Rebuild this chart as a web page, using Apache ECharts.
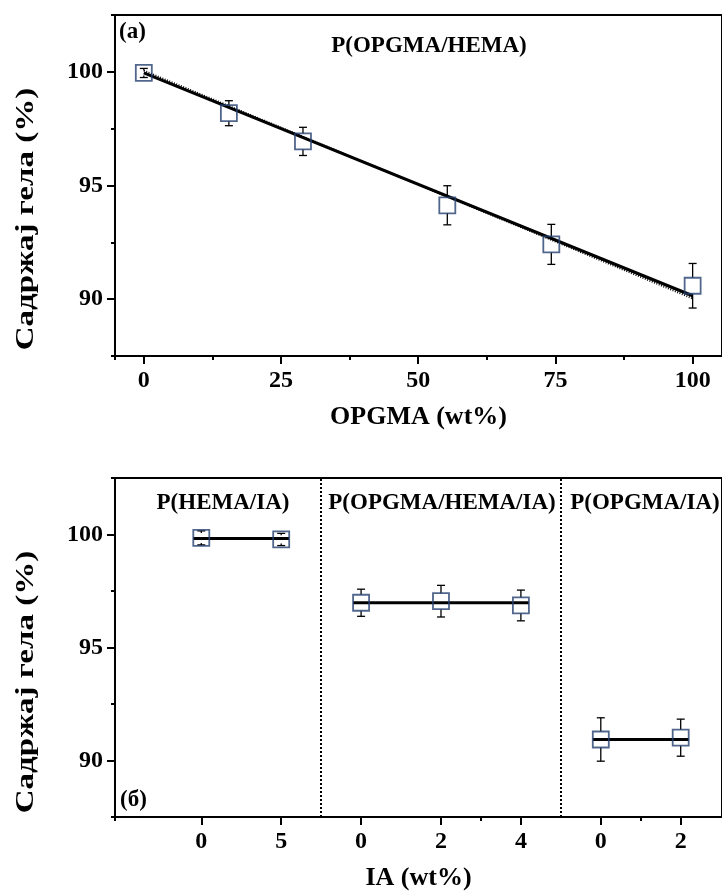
<!DOCTYPE html>
<html>
<head>
<meta charset="utf-8">
<script src="https://cdn.jsdelivr.net/npm/echarts@6/dist/echarts.min.js"></script>
<style>
  html, body { margin: 0; padding: 0; background: #fff; }
  #chart { width: 722px; height: 892px; }
</style>
</head>
<body>
<div id="chart"></div>
<script>
// Panel (a): gel content vs OPGMA content in P(OPGMA/HEMA)
const opgmaWt = [0, 15.5, 29, 55.3, 74.25, 100];
const gelA = [99.95, 98.18, 96.94, 94.13, 92.41, 90.59];
const errA = [0.2, 0.55, 0.62, 0.86, 0.88, 0.98];
const fitX = [0, 100];
const fitSolid = [99.95, 90.15];
const fitDotted = [100.05, 90.03];
const ticksA = [0, 25, 50, 75, 100];
const minorA = [-5.25, 12.5, 37.5, 62.5, 87.5];

// Panel (б): gel content vs IA content, three copolymer groups
const groupNames = ['P(HEMA/IA)', 'P(OPGMA/HEMA/IA)', 'P(OPGMA/IA)'];
const groupOf = [0, 0, 1, 1, 1, 2, 2];
const slotB = [0, 1, 2, 3, 4, 5, 6];
const iaWt = ['0', '5', '0', '2', '4', '0', '2'];
const gelB = [99.85, 99.78, 96.98, 97.05, 96.86, 90.93, 91.01];
const errB = [0.31, 0.27, 0.6, 0.7, 0.68, 0.96, 0.82];
const groupMean = [99.82, 96.98, 90.93];
const dividers = [1.5, 4.5];
const minorB = [-1.08, 3.5, 5.5];

const yTicks = [90, 95, 100];
const yMinor = [87.5, 92.5, 97.5, 102.5];
const yTitle = 'Садржај гела (%)';

const FONT = '"Liberation Serif", "Times New Roman", serif';
const SQ = 16;
const NAVY = '#26406f';

const chart = echarts.init(document.getElementById('chart'), null, { renderer: 'canvas' });

function majorX(gridIndex, min, max, values, fmt, name) {
  return {
    type: 'value', gridIndex, min, max, position: 'bottom',
    axisLine: { show: true, onZero: false, lineStyle: { color: '#000', width: 2 } },
    axisTick: { show: true, inside: false, length: 8, customValues: values, lineStyle: { color: '#000', width: 2 } },
    axisLabel: { show: true, customValues: values, formatter: fmt, margin: 13,
      color: '#000', fontFamily: FONT, fontWeight: 'bold', fontSize: 24 },
    splitLine: { show: false },
    name, nameLocation: 'middle', nameGap: 48,
    nameTextStyle: { color: '#000', fontFamily: FONT, fontWeight: 'bold', fontSize: 26 }
  };
}
function minorX(gridIndex, min, max, values) {
  return {
    type: 'value', gridIndex, min, max, position: 'bottom',
    axisLine: { show: false, onZero: false },
    axisTick: { show: true, length: 4, customValues: values, lineStyle: { color: '#000', width: 2 } },
    axisLabel: { show: false },
    splitLine: { show: false }
  };
}
function majorY(gridIndex) {
  return {
    type: 'value', gridIndex, min: 87.5, max: 102.5, position: 'left',
    axisLine: { show: true, onZero: false, lineStyle: { color: '#000', width: 2 } },
    axisTick: { show: true, length: 8, customValues: yTicks, lineStyle: { color: '#000', width: 2 } },
    axisLabel: { show: true, customValues: yTicks, margin: 12,
      color: '#000', fontFamily: FONT, fontWeight: 'bold', fontSize: 24 },
    splitLine: { show: false }
  };
}
function minorY(gridIndex) {
  return {
    type: 'value', gridIndex, min: 87.5, max: 102.5, position: 'left',
    axisLine: { show: false, onZero: false },
    axisTick: { show: true, length: 4, customValues: yMinor, lineStyle: { color: '#000', width: 2 } },
    axisLabel: { show: false },
    splitLine: { show: false }
  };
}

// Vertical error bars that start at the edge of the square marker
function errorBarRender(params, api) {
  const x = api.value(0), y = api.value(1), e = api.value(2);
  const c = api.coord([x, y]);
  const t = api.coord([x, y + e]);
  const b = api.coord([x, y - e]);
  const half = SQ / 2, cap = 4;
  const style = { stroke: '#000', lineWidth: 1.3, fill: null };
  const kids = [];
  const topEnd = t[1] < c[1] - half ? c[1] - half : t[1] + 2;
  const botEnd = b[1] > c[1] + half ? c[1] + half : b[1] - 2;
  kids.push({ type: 'line', shape: { x1: t[0], y1: t[1], x2: t[0], y2: topEnd }, style });
  kids.push({ type: 'line', shape: { x1: b[0], y1: b[1], x2: b[0], y2: botEnd }, style });
  kids.push({ type: 'line', shape: { x1: t[0] - cap, y1: t[1], x2: t[0] + cap, y2: t[1] }, style });
  kids.push({ type: 'line', shape: { x1: b[0] - cap, y1: b[1], x2: b[0] + cap, y2: b[1] }, style });
  return { type: 'group', children: kids };
}

// Horizontal mean line spanning a group's markers, edge to edge
function meanLineRender(params, api) {
  const x0 = api.value(0), x1 = api.value(1), m = api.value(2);
  const p0 = api.coord([x0, m]);
  const p1 = api.coord([x1, m]);
  return {
    type: 'line',
    shape: { x1: p0[0] - SQ / 2, y1: p0[1], x2: p1[0] + SQ / 2, y2: p1[1] },
    style: { stroke: '#000', lineWidth: 3 }
  };
}

const seriesA = opgmaWt.map((x, i) => [x, gelA[i]]);
const errDataA = opgmaWt.map((x, i) => [x, gelA[i], errA[i]]);
const seriesB = slotB.map((x, i) => [x, gelB[i]]);
const errDataB = slotB.map((x, i) => [x, gelB[i], errB[i]]);
const meanData = groupMean.map((m, g) => {
  const slots = slotB.filter((s, i) => groupOf[i] === g);
  return [Math.min(...slots), Math.max(...slots), m];
});

const squareStyle = { color: 'rgba(0,0,0,0)', borderColor: NAVY, borderWidth: 1.8 };
const labelFont = 'bold 23px ' + FONT;

function yTitleText(cy) {
  return { type: 'text', x: 27, y: cy, rotation: Math.PI / 2, scaleX: 1.32,
    style: { text: yTitle, font: 'bold 25px ' + FONT, fill: '#000', align: 'center', verticalAlign: 'middle' } };
}
function panelText(x, y, text, align) {
  return { type: 'text', x, y, style: { text, font: labelFont, fill: '#000', align: align || 'center', verticalAlign: 'middle' } };
}

const option = {
  backgroundColor: '#fff',
  animation: false,
  grid: [
    { left: 115, top: 15, width: 610, height: 341, show: true, borderColor: '#000', borderWidth: 2, backgroundColor: 'transparent' },
    { left: 115, top: 478, width: 610, height: 343, show: true, borderColor: '#000', borderWidth: 2, backgroundColor: 'transparent' }
  ],
  xAxis: [
    majorX(0, -5.25, 105.35, ticksA, v => String(v), 'OPGMA (wt%)'),
    minorX(0, -5.25, 105.35, minorA),
    majorX(1, -1.08, 6.517, slotB, v => iaWt[slotB.indexOf(Math.round(v))] ?? '', 'IA (wt%)'),
    minorX(1, -1.08, 6.517, minorB)
  ],
  yAxis: [majorY(0), minorY(0), majorY(1), minorY(1)],
  series: [
    { type: 'line', xAxisIndex: 0, yAxisIndex: 0, data: fitX.map((x, i) => [x, fitDotted[i]]),
      showSymbol: false, symbol: 'none', lineStyle: { color: '#000', width: 2, type: [1, 1.5] }, z: 3 },
    { type: 'line', xAxisIndex: 0, yAxisIndex: 0, data: fitX.map((x, i) => [x, fitSolid[i]]),
      showSymbol: false, symbol: 'none', lineStyle: { color: '#000', width: 3 }, z: 4 },
    { type: 'custom', xAxisIndex: 0, yAxisIndex: 0, data: errDataA, renderItem: errorBarRender,
      encode: { x: 0, y: 1 }, clip: false, z: 5 },
    { type: 'scatter', xAxisIndex: 0, yAxisIndex: 0, data: seriesA, symbol: 'rect', symbolSize: SQ,
      itemStyle: squareStyle, z: 6 },

    { type: 'custom', xAxisIndex: 2, yAxisIndex: 2, data: meanData, renderItem: meanLineRender,
      encode: { x: [0, 1], y: 2 }, clip: false, z: 4,
      markLine: {
        silent: true, symbol: 'none', label: { show: false },
        lineStyle: { color: '#000', width: 2, type: [2, 2] },
        data: dividers.map(d => ({ xAxis: d }))
      }
    },
    { type: 'custom', xAxisIndex: 2, yAxisIndex: 2, data: errDataB, renderItem: errorBarRender,
      encode: { x: 0, y: 1 }, clip: false, z: 5 },
    { type: 'scatter', xAxisIndex: 2, yAxisIndex: 2, data: seriesB, symbol: 'rect', symbolSize: SQ,
      itemStyle: squareStyle, z: 6 }
  ],
  graphic: [
    yTitleText(219),
    yTitleText(682),
    panelText(119, 32, '(a)', 'left'),
    panelText(429, 46, 'P(OPGMA/HEMA)'),
    panelText(223, 503, groupNames[0]),
    panelText(442, 503, groupNames[1]),
    panelText(645, 503, groupNames[2]),
    panelText(120, 800, '(б)', 'left')
  ]
};

chart.setOption(option);
</script>
</body>
</html>
